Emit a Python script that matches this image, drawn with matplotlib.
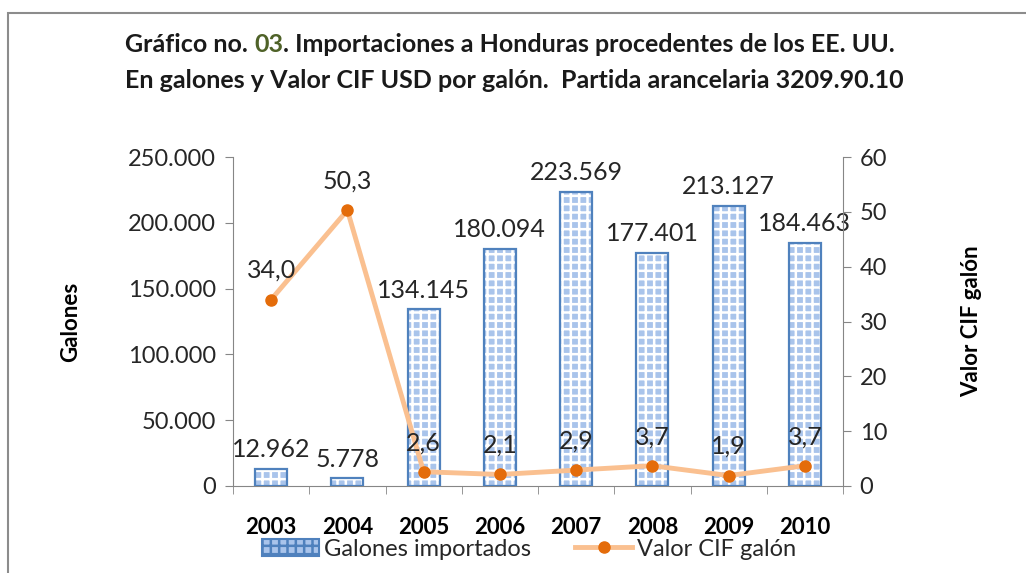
import matplotlib
matplotlib.use("Agg")
import matplotlib.pyplot as plt
from matplotlib.lines import Line2D
from matplotlib.patches import Rectangle, Patch
import numpy as np

# ── Data ───────────────────────────────────────────────────────────────────────
years   = ["2003", "2004", "2005", "2006", "2007", "2008", "2009", "2010"]
galones = [12962, 5778, 134145, 180094, 223569, 177401, 213127, 184463]
valor   = [34.0, 50.3, 2.6, 2.1, 2.9, 3.7, 1.9, 3.7]

BAR_EDGE  = "#4F81BD"
BAR_FACE  = "#A9C4EB"
LINE_CLR  = "#FAC090"
MARK_CLR  = "#E46C0A"
TEXT_CLR  = "#262626"

plt.rcParams["font.family"] = ["Lato", "DejaVu Sans"]
plt.rcParams["hatch.linewidth"] = 1.8

def fmt_thousands(v):
    return f"{v:,.0f}".replace(",", ".")

fig = plt.figure(figsize=(10.26, 5.73), dpi=100)
# outer frame
fig.add_artist(Rectangle((8 / 1026, -0.05), 1.1, 1 - 13 / 573 + 0.05,
                         transform=fig.transFigure, fill=False,
                         edgecolor="#8c8c8c", linewidth=1.5))

ax = fig.add_axes([233 / 1026, 1 - 486 / 573, (843 - 233) / 1026, (486 - 157) / 573])
ax2 = ax.twinx()

x = np.arange(len(years))
ax.bar(x, galones, width=0.42, color=BAR_FACE, edgecolor="white",
       hatch="++", linewidth=0, zorder=2)
ax.bar(x, galones, width=0.42, color="none", edgecolor=BAR_EDGE,
       linewidth=1.6, zorder=3)

ax.set_xlim(-0.5, len(years) - 0.5)
ax.set_ylim(0, 250000)
ax.set_yticks(np.arange(0, 250001, 50000))
ax.set_yticklabels([fmt_thousands(v) for v in np.arange(0, 250001, 50000)],
                   fontsize=17, color=TEXT_CLR)
ax.set_xticks(x)
ax.set_xticklabels(years, fontsize=16, fontweight="bold")
ax.set_xticks(np.arange(-0.5, len(years)), minor=True)
ax.tick_params(axis="x", which="major", length=0, pad=22)
ax.tick_params(axis="x", which="minor", length=6, color="#868686")
ax.tick_params(axis="y", length=6, color="#868686", pad=6)
ax.set_ylabel("Galones", fontsize=16, fontweight="bold", labelpad=34)

for s in ["top", "right"]:
    ax.spines[s].set_visible(False)
    ax2.spines[s].set_visible(False)
for s in ["left", "bottom"]:
    ax.spines[s].set_color("#868686")
ax2.spines["right"].set_visible(True)
ax2.spines["right"].set_color("#868686")
ax2.spines["left"].set_visible(False)
ax2.spines["bottom"].set_visible(False)

for xi, g in zip(x, galones):
    ax.text(xi, g + 6000, fmt_thousands(g), ha="center", va="bottom",
            fontsize=18, color=TEXT_CLR)

ax2.plot(x, valor, color=LINE_CLR, linewidth=3.5, zorder=4)
ax2.plot(x, valor, linestyle="none", marker="o", markersize=8,
         markerfacecolor=MARK_CLR, markeredgecolor=MARK_CLR, zorder=5)
ax2.set_ylim(0, 60)
ax2.set_yticks(np.arange(0, 61, 10))
ax2.tick_params(axis="y", labelsize=17, labelcolor=TEXT_CLR, length=6,
                color="#868686", pad=6)
ax2.set_ylabel("Valor CIF galón", fontsize=16, fontweight="bold", labelpad=53)

for xi, v in zip(x, valor):
    ax2.text(xi, v + 3.2, f"{v:.1f}".replace(".", ","), ha="center", va="bottom",
             fontsize=18, color=TEXT_CLR, zorder=6)

ax.set_zorder(ax2.get_zorder() - 1)
ax.patch.set_visible(True)
ax2.patch.set_visible(False)

# title, with "03" in green
title_kw = dict(fontsize=18, fontweight="bold", va="center")
parts = [("Gráfico no. ", "#1a1a1a"), ("03", "#4F6228"),
         (". Importaciones a Honduras procedentes de los EE. UU.", "#1a1a1a")]
fig.canvas.draw()
r = fig.canvas.get_renderer()
x0 = 125 / 1026
for txt, clr in parts:
    t = fig.text(x0, 1 - 45 / 573, txt, color=clr, **title_kw)
    x0 += t.get_window_extent(r).width / 1026
fig.text(125 / 1026, 1 - 80 / 573,
         "En galones y Valor CIF USD por galón.  Partida arancelaria 3209.90.10",
         color="#1a1a1a", **title_kw)

handles = [Patch(facecolor=BAR_FACE, edgecolor=BAR_EDGE, hatch="++", linewidth=1.5),
           Line2D([0], [0], color=LINE_CLR, linewidth=3.5, marker="o", markersize=8,
                  markerfacecolor=MARK_CLR, markeredgecolor=MARK_CLR)]
fig.legend(handles, ["Galones importados", "Valor CIF galón"], loc="center",
           bbox_to_anchor=(529 / 1026, 1 - 549 / 573), ncol=2, frameon=False,
           fontsize=17, handlelength=2.4, columnspacing=1.9, handletextpad=0.2,
           labelcolor=TEXT_CLR)

fig.savefig("out.png", dpi=100)
